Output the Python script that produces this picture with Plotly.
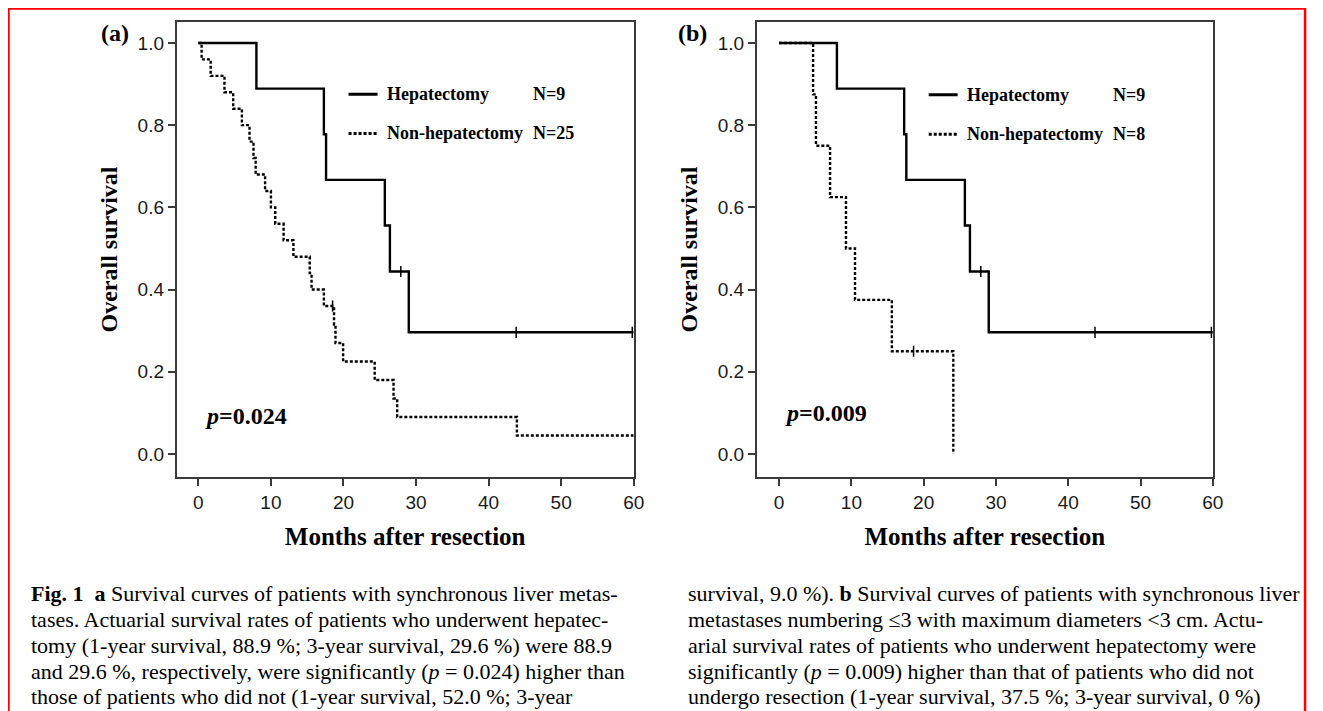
import plotly.graph_objects as go

# ---------------- data ----------------
x_ticks = [0, 10, 20, 30, 40, 50, 60]
y_ticks = [0.0, 0.2, 0.4, 0.6, 0.8, 1.0]
y_tick_labels = ["0.0", "0.2", "0.4", "0.6", "0.8", "1.0"]

# Panel (a)
a_hep_t = [0, 8.0, 17.3, 17.6, 25.7, 26.4, 29.0, 60.0]
a_hep_s = [1.0, 0.889, 0.778, 0.667, 0.556, 0.444, 0.296, 0.296]
a_hep_cens_t = [27.9, 43.8, 59.8]
a_hep_cens_s = [0.444, 0.296, 0.296]

a_non_t = [0, 0.45, 1.7, 3.6, 4.8, 6.0, 7.05, 7.6, 7.9, 9.2, 10.0, 10.6, 11.75,
           13.1, 15.35, 15.6, 17.3, 18.7, 18.9, 19.95, 24.3, 26.9, 27.4, 43.9, 60.0]
a_non_s = [1.0, 0.96, 0.92, 0.88, 0.84, 0.80, 0.76, 0.72, 0.68, 0.64, 0.60, 0.56, 0.52,
           0.48, 0.44, 0.40, 0.36, 0.315, 0.27, 0.225, 0.18, 0.135, 0.09, 0.045, 0.045]
a_non_cens_t = [18.5]
a_non_cens_s = [0.36]

# Panel (b)
b_hep_t = [0, 8.0, 17.3, 17.6, 25.7, 26.4, 29.0, 60.0]
b_hep_s = [1.0, 0.889, 0.778, 0.667, 0.556, 0.444, 0.296, 0.296]
b_hep_cens_t = [27.9, 43.7, 59.8]
b_hep_cens_s = [0.444, 0.296, 0.296]

b_non_t = [0, 4.7, 5.1, 7.05, 9.25, 10.5, 15.6, 24.1]
b_non_s = [1.0, 0.875, 0.75, 0.625, 0.5, 0.375, 0.25, 0.0]
b_non_cens_t = [18.6]
b_non_cens_s = [0.25]

legend_names = ["Hepatectomy", "Non-hepatectomy"]
a_counts = ["N=9", "N=25"]
b_counts = ["N=9", "N=8"]
p_values = ["0.024", "0.009"]
panel_labels = ["(a)", "(b)"]

caption_left = [
    "<b>Fig. 1</b>  <b>a</b> Survival curves of patients with synchronous liver metas-",
    "tases. Actuarial survival rates of patients who underwent hepatec-",
    "tomy (1-year survival, 88.9 %; 3-year survival, 29.6 %) were 88.9",
    "and 29.6 %, respectively, were significantly (<i>p</i> = 0.024) higher than",
    "those of patients who did not (1-year survival, 52.0 %; 3-year",
]
caption_right = [
    "survival, 9.0 %). <b>b</b> Survival curves of patients with synchronous liver",
    "metastases numbering ≤3 with maximum diameters &lt;3 cm. Actu-",
    "arial survival rates of patients who underwent hepatectomy were",
    "significantly (<i>p</i> = 0.009) higher than that of patients who did not",
    "undergo resection (1-year survival, 37.5 %; 3-year survival, 0 %)",
]

# ---------------- figure ----------------
# the page has an 8px body margin: figure pixel = page pixel - 8
OFF = 8
W, H = 1323 - OFF, 711 - OFF
SERIF = "Liberation Serif"
SANS = "Liberation Sans"


def px(p):
    return (p - OFF) / W


def py(p):
    return 1 - (p - OFF) / H


fig = go.Figure()


def add_panel(xa, ya, hep_t, hep_s, hc_t, hc_s, non_t, non_s, nc_t, nc_s):
    fig.add_trace(go.Scatter(x=hep_t, y=hep_s, mode="lines", line_shape="hv",
                             line=dict(color="black", width=2.4),
                             xaxis=xa, yaxis=ya, showlegend=False, name=legend_names[0]))
    fig.add_trace(go.Scatter(x=non_t, y=non_s, mode="lines", line_shape="hv",
                             line=dict(color="black", width=2.4, dash="3px,2px"),
                             xaxis=xa, yaxis=ya, showlegend=False, name=legend_names[1]))
    fig.add_trace(go.Scatter(x=hc_t + nc_t, y=hc_s + nc_s, mode="markers",
                             marker=dict(symbol="line-ns-open", size=8, color="black",
                                         line=dict(color="black", width=1.5)),
                             xaxis=xa, yaxis=ya, showlegend=False, cliponaxis=False,
                             name="censored"))


add_panel("x", "y", a_hep_t, a_hep_s, a_hep_cens_t, a_hep_cens_s,
          a_non_t, a_non_s, a_non_cens_t, a_non_cens_s)
add_panel("x2", "y2", b_hep_t, b_hep_s, b_hep_cens_t, b_hep_cens_s,
          b_non_t, b_non_s, b_non_cens_t, b_non_cens_s)

axis_common = dict(
    showline=True, mirror=True, linecolor="#3a3a3a", linewidth=1.5,
    ticks="outside", ticklen=7, tickwidth=1.5, tickcolor="#3a3a3a",
    showgrid=False, zeroline=False,
    tickfont=dict(family=SANS, size=19, color="#1a1a1a"),
)
xtitle_font = dict(family=SERIF, size=25, color="black")
ytitle_font = dict(family=SERIF, size=24, color="black")

y_dom = [py(477), py(22)]
fig.update_layout(
    width=W, height=H, margin=dict(l=0, r=0, t=0, b=0),
    paper_bgcolor="white", plot_bgcolor="white",
    xaxis=dict(domain=[px(178), px(639)], range=[-3, 60], tickvals=x_ticks,
               title=dict(text="<b>Months after resection</b>", font=xtitle_font, standoff=16),
               anchor="y", **axis_common),
    yaxis=dict(domain=y_dom, range=[-0.056, 1.051], tickvals=y_ticks, ticktext=y_tick_labels,
               title=dict(text="<b>Overall survival</b>", font=ytitle_font, standoff=13),
               anchor="x", **axis_common),
    xaxis2=dict(domain=[px(763), px(1223)], range=[-3.1, 60], tickvals=x_ticks,
                title=dict(text="<b>Months after resection</b>", font=xtitle_font, standoff=16),
                anchor="y2", **axis_common),
    yaxis2=dict(domain=y_dom, range=[-0.056, 1.051], tickvals=y_ticks, ticktext=y_tick_labels,
                title=dict(text="<b>Overall survival</b>", font=ytitle_font, standoff=13),
                anchor="x2", **axis_common),
)

shapes = []
annotations = []
leg_font = dict(family=SERIF, size=18, color="black")

for xa, ya, counts, leg_y, pval, p_y in [
    ("x", "y", a_counts, [0.875, 0.78], p_values[0], 0.092),
    ("x2", "y2", b_counts, [0.874, 0.778], p_values[1], 0.10),
]:
    for i in range(2):
        shapes.append(dict(type="line", xref=xa, yref=ya, x0=20.7, x1=24.7,
                           y0=leg_y[i], y1=leg_y[i],
                           line=dict(color="black", width=3,
                                     dash="solid" if i == 0 else "3px,2px")))
        annotations.append(dict(xref=xa, yref=ya, x=25.7, y=leg_y[i], xanchor="left",
                                yanchor="middle", showarrow=False,
                                text="<b>" + legend_names[i] + "</b>", font=leg_font))
        annotations.append(dict(xref=xa, yref=ya, x=45.9, y=leg_y[i], xanchor="left",
                                yanchor="middle", showarrow=False,
                                text="<b>" + counts[i] + "</b>", font=leg_font))
    annotations.append(dict(xref=xa, yref=ya, x=0.6, y=p_y, xanchor="left",
                            yanchor="middle", showarrow=False,
                            text="<b><i>p</i>=" + pval + "</b>",
                            font=dict(family=SERIF, size=24, color="black")))

# panel labels
for lbl, lx in zip(panel_labels, [100, 682]):
    annotations.append(dict(xref="paper", yref="paper", x=px(lx), y=py(33),
                            xanchor="left", yanchor="middle", showarrow=False,
                            text="<b>" + lbl + "</b>",
                            font=dict(family=SERIF, size=24, color="black")))

# caption
line_y = [593, 619, 645, 671, 696]
cap_font = dict(family=SERIF, size=22, color="black")
for lines, lx in [(caption_left, 29), (caption_right, 692)]:
    for txt, ly in zip(lines, line_y):
        annotations.append(dict(xref="paper", yref="paper", x=px(lx), y=py(ly),
                                xanchor="left", yanchor="middle", showarrow=False,
                                text=txt, font=cap_font))

# red frame
shapes.append(dict(type="rect", xref="paper", yref="paper",
                   x0=px(8.5), x1=px(1316), y0=-0.05, y1=py(8.5),
                   line=dict(color="#ff0000", width=2.5), fillcolor="rgba(0,0,0,0)",
                   layer="above"))

fig.update_layout(shapes=shapes, annotations=annotations)
fig.write_html("out.html")
